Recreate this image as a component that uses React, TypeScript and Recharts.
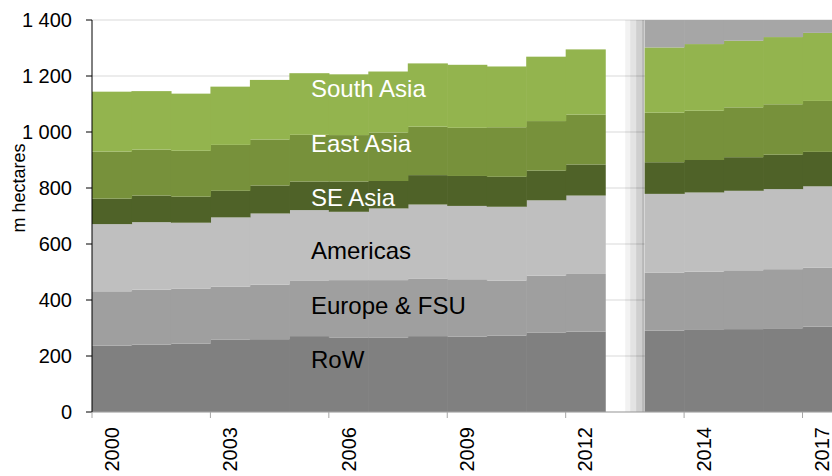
import React from 'react';
import { BarChart, Bar, XAxis, YAxis, CartesianGrid } from 'recharts';

// ---- data (m hectares) ----
const years = ['2000','2001','2002','2003','2004','2005','2006','2007','2008','2009','2010','2011','2012','2013','2014','2015','2016','2017'];
const rowArea      = [237, 241, 244, 258, 260, 271, 265, 265, 271, 269, 273, 283, 287, 291, 293, 296, 299, 305];
const europeFsu    = [194, 196, 197, 190, 195, 199, 206, 206, 206, 205, 196, 204, 206, 207, 208, 210, 211, 210];
const americas     = [240, 241, 235, 247, 254, 251, 244, 256, 264, 262, 264, 269, 280, 281, 283, 284, 286, 291];
const seAsia       = [ 91,  95,  93,  95, 100, 102, 108,  98, 105, 107, 107, 106, 111, 113, 116, 120, 123, 123];
const eastAsia     = [168, 164, 164, 164, 164, 167, 166, 173, 173, 172, 177, 177, 178, 177, 176, 178, 180, 182];
const southAsia    = [214, 209, 204, 208, 213, 220, 217, 218, 226, 225, 217, 230, 233, 233, 238, 238, 240, 243];
const forecastYears = ['2013','2014','2015','2016','2017'];
const gapKey = 'gap';
const yTicks = [0, 200, 400, 600, 800, 1000, 1200, 1400];
const xLabelYears = ['2000','2003','2006','2009','2012','2014','2017'];
const yMax = 1400;
const seriesNames = ['South Asia', 'East Asia', 'SE Asia', 'Americas', 'Europe & FSU', 'RoW'];

// ---- table built from the arrays ----
type Row = { cat: string; row: number; eur: number; am: number; se: number; ea: number; sa: number; pad: number; gap: number };
const table: Row[] = [];
years.forEach((yr, i) => {
  if (yr === forecastYears[0]) {
    table.push({ cat: gapKey, row: 0, eur: 0, am: 0, se: 0, ea: 0, sa: 0, pad: 0, gap: yMax });
  }
  const total = rowArea[i] + europeFsu[i] + americas[i] + seAsia[i] + eastAsia[i] + southAsia[i];
  table.push({
    cat: yr,
    row: rowArea[i], eur: europeFsu[i], am: americas[i], se: seAsia[i], ea: eastAsia[i], sa: southAsia[i],
    pad: forecastYears.includes(yr) ? yMax - total : 0,
    gap: 0,
  });
});

// ---- layout ----
const W = 842;
const H = 476;
const LEFT = 92;
const TOP = 20;
const XH = 64;
const PLOT_BOTTOM = H - XH;
const BW = (W - LEFT) / table.length;
const FONT = '"Liberation Sans", Arial, sans-serif';

const fmtY = (v: number) => (v >= 1000 ? `${Math.floor(v / 1000)} ${String(v % 1000).padStart(3, '0')}` : String(v));

const XTick = (props: any) => {
  const { x, payload } = props;
  if (!xLabelYears.includes(payload.value)) return <g />;
  const ty = PLOT_BOTTOM + 15;
  return (
    <g>
      <line x1={x - BW / 2} x2={x - BW / 2} y1={PLOT_BOTTOM} y2={PLOT_BOTTOM + 6} stroke="#a6a6a6" strokeWidth={1} />
      <text x={x} y={ty} transform={`rotate(-90 ${x} ${ty})`} textAnchor="end" dominantBaseline="central"
        fontSize={20} fill="#000" fontFamily={FONT}>{payload.value}</text>
    </g>
  );
};

// bar without sub-pixel seams between neighbouring categories
const Seamless = (props: any) => {
  const { x, y, width, height, fill } = props;
  if (!height || height <= 0) return <g />;
  return <rect x={x} y={y} width={BW + 0.6} height={height} fill={fill} />;
};

const GapShape = (props: any) => {
  const { x, y, height } = props;
  if (!height || height <= 0) return <g />;
  const stripes = [
    [0.507, 0.634, 0.05],
    [0.634, 0.786, 0.11],
    [0.786, 0.935, 0.19],
    [0.935, 0.99, 0.28],
  ];
  return (
    <g>
      {stripes.map((s, i) => (
        <rect key={i} x={x + BW * s[0]} y={y} width={BW * (s[1] - s[0])} height={height} fill="#000" fillOpacity={s[2]} />
      ))}
    </g>
  );
};

const labelStyle = [
  { y: 96.5, color: '#ffffff' },
  { y: 151.5, color: '#ffffff' },
  { y: 205.5, color: '#ffffff' },
  { y: 259, color: '#000000' },
  { y: 313.5, color: '#000000' },
  { y: 368, color: '#000000' },
];

const Overlay = () => (
  <svg width={832} height={476} style={{ position: 'absolute', left: 0, top: 0, pointerEvents: 'none' }}>
    {seriesNames.map((name, i) => (
      <text key={name} x={311} y={labelStyle[i].y} fontSize={24} fill={labelStyle[i].color} fontFamily={FONT}>{name}</text>
    ))}
    <text x={19} y={188} transform="rotate(-90 19 188)" textAnchor="middle" dominantBaseline="central"
      fontSize={18} fill="#000" fontFamily={FONT}>m hectares</text>
  </svg>
);

export default function App() {
  return (
    <div style={{ position: 'absolute', left: 0, top: 0, width: 832, height: 476, overflow: 'hidden', background: '#fff' }}>
      <BarChart width={W} height={H} data={table} margin={{ top: TOP, right: 0, bottom: 0, left: 0 }}
        barCategoryGap={0} barGap={0}>
        <CartesianGrid vertical={false} stroke="#d9d9d9" />
        <XAxis dataKey="cat" height={XH} interval={0} tickLine={false} tickSize={0}
          axisLine={{ stroke: '#a6a6a6' }} tick={<XTick />} />
        <YAxis width={LEFT} domain={[0, yMax]} ticks={yTicks} tickFormatter={fmtY} interval={0}
          tickSize={6} tickMargin={14} axisLine={{ stroke: '#000' }} tickLine={{ stroke: '#000' }}
          tick={{ fontSize: 20, fill: '#000', fontFamily: FONT }} />
        <Bar dataKey="row" stackId="a" fill="#808080" shape={<Seamless />} isAnimationActive={false} />
        <Bar dataKey="eur" stackId="a" fill="#9f9f9f" shape={<Seamless />} isAnimationActive={false} />
        <Bar dataKey="am" stackId="a" fill="#bfbfbf" shape={<Seamless />} isAnimationActive={false} />
        <Bar dataKey="se" stackId="a" fill="#4f6228" shape={<Seamless />} isAnimationActive={false} />
        <Bar dataKey="ea" stackId="a" fill="#77913b" shape={<Seamless />} isAnimationActive={false} />
        <Bar dataKey="sa" stackId="a" fill="#93b44e" shape={<Seamless />} isAnimationActive={false} />
        <Bar dataKey="pad" stackId="a" fill="#a6a6a6" shape={<Seamless />} isAnimationActive={false} />
        <Bar dataKey="gap" stackId="a" fill="none" shape={<GapShape />} isAnimationActive={false} />
      </BarChart>
      <Overlay />
    </div>
  );
}
